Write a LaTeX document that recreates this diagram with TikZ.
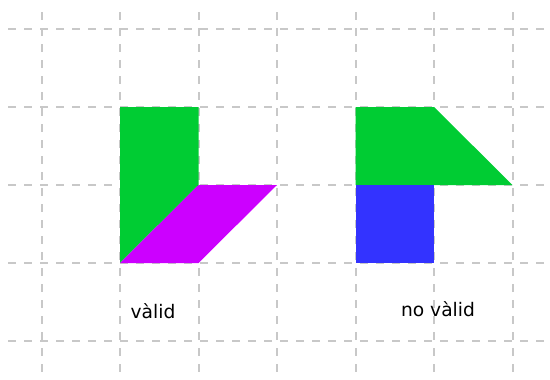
\documentclass[tikz,border=0pt]{standalone}
\usepackage{fontspec}
\setmainfont{DejaVu Sans}
\usetikzlibrary{positioning}
\definecolor{piecegreen}{RGB}{0,204,51}
\definecolor{piecemagenta}{RGB}{204,0,255}
\definecolor{pieceblue}{RGB}{51,51,255}
\definecolor{gridgray}{RGB}{200,200,200}
\tikzset{
  gridline/.style={gridgray, line width=1.5pt, dash pattern=on 6pt off 6pt},
  piece/.style={draw=none},
  caption/.style={font=\fontsize{14}{16}\selectfont, inner sep=0pt}
}

\begin{document}
\begin{tikzpicture}[x=0.75pt, y=-0.75pt]
    \useasboundingbox (0,0) rectangle (550,379);

    % Grid
    \foreach \gx in {41.5,120,198.5,277,355.5,434,512.5}
        \draw[gridline] (\gx,12) -- (\gx,379);
    \foreach \gy in {29,107,185,263,341}
        \draw[gridline] (8,\gy) -- (550,\gy);

    % Valid
    \fill[piecegreen] (120,107) -- (198.5,107) -- (198.5,185) -- (120,263) -- cycle;
    \fill[piecemagenta] (120,263) -- (198.5,185) -- (277,185) -- (198.5,263) -- cycle;
    \node[caption] (valid) at (153,311) {vàlid};

    % Not valid
    \fill[piecegreen] (355.5,107) -- (434,107) -- (512.5,185) -- (355.5,185) -- cycle;
    \fill[pieceblue] (355.5,185) rectangle (434,263);
    \node[caption] (novalid) at (438,309) {no vàlid};
\end{tikzpicture}
\end{document}
